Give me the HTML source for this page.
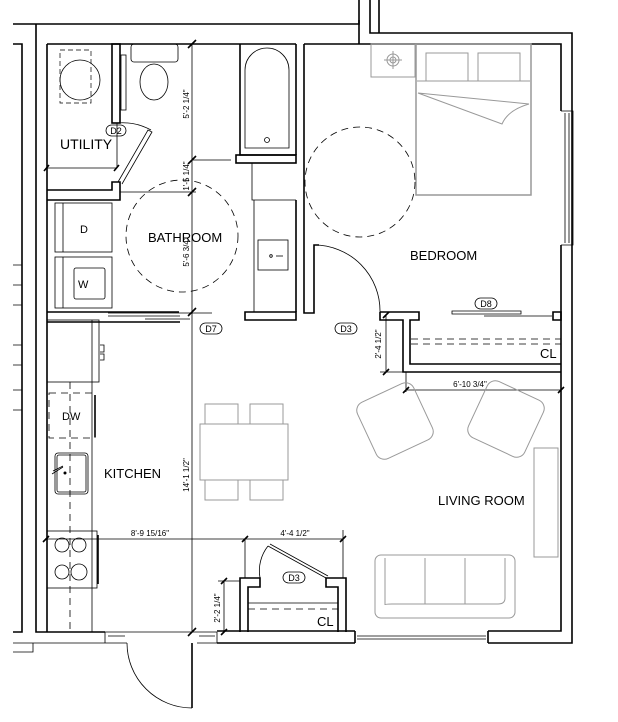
<!DOCTYPE html>
<html><head><meta charset="utf-8"><style>
html,body{margin:0;padding:0;background:#fff}
svg{display:block}
text{font-family:"Liberation Sans",sans-serif;fill:#000}
.w{fill:none;stroke:#000;stroke-width:1.6}
.t{fill:none;stroke:#000;stroke-width:0.8}
.g{fill:none;stroke:#999;stroke-width:1}
.d{fill:none;stroke:#000;stroke-width:0.9;stroke-dasharray:7 5}
.lab{font-size:13px}
.dim{font-size:8px}
</style></head><body>
<svg width="618" height="722" viewBox="0 0 618 722" xmlns="http://www.w3.org/2000/svg">
<!-- outer walls -->
<path class="w" d="M13 24 H359 V0 M370 0 V33 H572 V643 H488 M379 0 V33"/>
<path class="w" d="M13 44 H22 V632 H13 M36 24 V632 H105 M47 44 V632 M47 44 H296 M304 44 H359 M359 44 V20 M359 44 H561 V111 M561 245 V631 H488 M355 631 H217 M217 643 H355 M355 631 V643 M488 631 V643"/>
<path class="t" d="M13 643 H105 M13 652 H33 V643 M105 632 V643 M217 632 V643"/>
<!-- left ticks -->
<path class="t" d="M13 265 H22 M13 285 H22 M13 305 H22 M13 345 H22 M13 365 H22 M13 390 H22 M13 410 H22"/>
<!-- right window -->
<path class="t" d="M561 111 H573 V245 H561 M565 113 V243 M569 113 V243"/>
<!-- living window -->
<path class="t" d="M357 636 H486 M357 639 H486"/>
<!-- entry -->
<path class="t" d="M105 632 H217 M105 643 H127 M197 643 H217 M108 636 H125 M199 636 H215"/>
<path class="w" d="M192 643 V708"/>
<path class="t" d="M127 643 A65 65 0 0 0 192 708"/>
<!-- bath/bedroom wall -->
<path class="w" d="M296 44 V155 M304 44 V313 H314 V245 H319 M296 200 V312"/>
<path class="t" d="M314 245 A66 66 0 0 1 380 312"/>
<!-- tub -->
<path class="w" d="M240 44 V155 H296"/>
<rect x="236" y="155" width="60" height="8" class="w"/>
<path class="t" d="M245 148 V70 A22 22 0 0 1 289 70 V148 Z"/>
<circle cx="267" cy="140" r="2.5" class="t"/>
<!-- vanity -->
<path class="t" d="M252 163 V200 H296 M254 200 V312"/>
<rect x="258" y="240" width="30" height="30" class="t"/>
<circle cx="271" cy="256" r="1.3" class="t"/><path class="t" d="M276 256 H283"/>
<!-- bath bottom wall -->
<path class="w" d="M47 312 H179 M245 312 H296 V320 H245 Z M47 322 H180"/>
<path class="t" d="M108 313 H212 M108 316 H180 M145 319 H190"/>
<!-- toilet -->
<rect x="131" y="44" width="47" height="18" rx="3" class="t"/>
<ellipse cx="154" cy="82" rx="14" ry="18" class="t"/>
<!-- utility -->
<rect x="112" y="44" width="8" height="79" class="w"/>
<rect x="121" y="55" width="5" height="55" class="t"/>
<rect x="60" y="50" width="31" height="53" class="d" style="stroke-dasharray:5 3;stroke-width:0.7"/>
<circle cx="80" cy="80" r="20" class="t"/>
<path class="w" d="M47 190 H112 V182 H120 V200 H47"/>
<path class="t" d="M118 182 L148 130 L152 132 L122 184 M117 123 A60 60 0 0 1 151 130"/>
<path class="t" d="M46 168 H117 M117 123 V168 M120 192 H196"/>
<path class="w" d="M44 171 L49 165 M114 171 L119 165"/>
<rect x="55" y="203" width="57" height="49" class="t"/><path class="t" d="M63 203 V252"/>
<rect x="55" y="257" width="57" height="51" class="t"/><path class="t" d="M63 257 V308"/>
<rect x="74" y="268" width="31" height="31" rx="2" class="t"/>
<text x="80" y="233" class="lab" style="font-size:11px">D</text>
<text x="78" y="288" class="lab" style="font-size:11px">W</text>
<text x="60" y="149" class="lab" style="font-size:14px">UTILITY</text>
<!-- bath circle -->
<circle cx="182" cy="236" r="56" class="d" style="stroke-width:0.8"/>
<text x="148" y="242" class="lab" style="font-size:13px">BATHROOM</text>
<!-- central dim line -->
<path class="t" d="M192 44 V632 M192 160 H231"/>
<path class="w" d="M188 48 L196 40 M188 164 L196 156 M188 196 L196 188 M188 316 L196 308 M188 636 L196 628"/>
<text class="dim" transform="translate(189,104) rotate(-90)" text-anchor="middle">5'-2 1/4"</text>
<text class="dim" transform="translate(189,176) rotate(-90)" text-anchor="middle">1'-5 1/4"</text>
<text class="dim" transform="translate(189,252) rotate(-90)" text-anchor="middle">5'-6 3/4"</text>
<text class="dim" transform="translate(189,475) rotate(-90)" text-anchor="middle">14'-1 1/2"</text>
<!-- labels D -->
<rect x="106" y="125" width="20" height="11" rx="5.5" class="t"/><text x="116" y="134" class="dim" text-anchor="middle" style="font-size:9px">D2</text>
<rect x="200" y="323" width="22" height="11" rx="5.5" class="t"/><text x="211" y="332" class="dim" text-anchor="middle" style="font-size:9px">D7</text>
<rect x="335" y="323" width="22" height="11" rx="5.5" class="t"/><text x="346" y="332" class="dim" text-anchor="middle" style="font-size:9px">D3</text>
<rect x="475" y="298" width="22" height="11" rx="5.5" class="t"/><text x="486" y="307" class="dim" text-anchor="middle" style="font-size:9px">D8</text>
<rect x="283" y="572" width="22" height="11" rx="5.5" class="t"/><text x="294" y="581" class="dim" text-anchor="middle" style="font-size:9px">D3</text>
<!-- bedroom -->
<rect x="371" y="44" width="44" height="33" class="g"/>
<circle cx="393" cy="60" r="6" class="g"/><circle cx="393" cy="60" r="3" class="g"/><path class="g" d="M384 60 H402 M393 51 V69"/>
<rect x="416" y="44" width="115" height="151" class="g" style="stroke-width:1.5"/>
<rect x="426" y="53" width="42" height="28" class="g"/><rect x="478" y="53" width="42" height="28" class="g"/>
<path class="g" d="M417 81 H530 M418 93 L529 104 M418 93 L502 124 Q508 110 529 104"/>
<circle cx="360" cy="182" r="55" class="d" style="stroke-width:0.8"/>
<text x="410" y="260" class="lab">BEDROOM</text>
<!-- bedroom closet -->
<path class="w" d="M380 312 H419 V320 H410 V364 H561 M380 312 V320 H403 V372 H561 M553 312 H561 V320 H553 Z"/>
<path class="t" d="M452 311 H521 V314 H452 Z M484 316 H552"/>
<path class="d" d="M411 339 H561 M411 344 H561" style="stroke-width:0.8"/>
<text x="540" y="358" class="lab">CL</text>
<path class="t" d="M386 315 V372 M380 372 H410"/>
<path class="w" d="M383 318 L389 312 M383 375 L389 369"/>
<text class="dim" transform="translate(381,344) rotate(-90)" text-anchor="middle">2'-4 1/2"</text>
<!-- kitchen -->
<rect x="47" y="320" width="52" height="62" class="t"/><path class="t" d="M92 320 V382 M100 345 H104 V352 H100 M100 354 H104 V360 H100"/>
<path class="t" d="M92 382 V632"/>
<path class="d" d="M70 382 V632" style="stroke-width:0.8"/>
<rect x="49" y="393" width="46" height="45" class="d" style="stroke-width:0.8"/>
<path class="w" d="M95 395 V437"/>
<text x="62" y="420" class="lab" style="font-size:11px">DW</text>
<rect x="55" y="453" width="33" height="41" rx="3" class="t"/><rect x="57" y="455" width="29" height="37" rx="2" class="t"/>
<circle cx="65" cy="473" r="1.5" fill="#000"/><path class="t" d="M52 474 L63 467 M53 471 L63 466"/>
<rect x="47" y="531" width="50" height="57" class="t"/><path class="w" d="M98 535 V584"/>
<circle cx="62" cy="545" r="7" class="t"/><circle cx="79" cy="545" r="7" class="t"/>
<circle cx="62" cy="572" r="7" class="t"/><circle cx="79" cy="572" r="8" class="t"/>
<text x="104" y="478" class="lab">KITCHEN</text>
<!-- dining -->
<rect x="200" y="424" width="88" height="56" class="g"/>
<rect x="205" y="404" width="33" height="20" class="g"/><rect x="250" y="404" width="33" height="20" class="g"/>
<rect x="205" y="480" width="33" height="20" class="g"/><rect x="250" y="480" width="33" height="20" class="g"/>
<!-- dims bottom -->
<path class="t" d="M45 539 H343 M245 539 V578 M343 530 V578"/>
<path class="w" d="M43 542 L49 536 M242 542 L248 536 M340 542 L346 536"/>
<text x="150" y="536" class="dim" text-anchor="middle" style="fill:#000;paint-order:stroke;stroke:#fff;stroke-width:3">8'-9 15/16"</text>
<text x="295" y="536" class="dim" text-anchor="middle">4'-4 1/2"</text>
<!-- lower closet -->
<path class="w" d="M240 632 V578 H260 V587 H248 V632 M346 632 V578 H326 V587 H338 V632"/>
<path class="t" d="M268 546 L326 578 M270 544 L328 576 M268 546 A40 40 0 0 0 260 578"/>
<path class="t" d="M248 603 H338"/>
<path class="d" d="M248 609 H338" style="stroke-width:0.8"/>
<text x="317" y="626" class="lab">CL</text>
<path class="t" d="M224 580 V632 M218 581 H240"/>
<path class="w" d="M221 584 L227 578 M221 635 L227 629"/>
<text class="dim" transform="translate(220,608) rotate(-90)" text-anchor="middle">2'-2 1/4"</text>
<!-- living -->
<path class="t" d="M406 390 H561 M406 372 V392"/>
<path class="w" d="M403 393 L409 387 M558 393 L564 387"/>
<text x="470" y="387" class="dim" text-anchor="middle">6'-10 3/4"</text>
<g transform="translate(395,421) rotate(-25)"><rect x="-31" y="-31" width="62" height="62" rx="9" class="g"/></g>
<g transform="translate(506,419) rotate(25)"><rect x="-31" y="-31" width="62" height="62" rx="9" class="g"/></g>
<rect x="534" y="448" width="24" height="109" class="g"/>
<rect x="375" y="555" width="140" height="63" rx="6" class="g"/>
<path class="g" d="M385 558 V605 Q385 604 392 604 H498 Q505 604 505 598 V558 M425 558 V604 M465 558 V604"/>
<text x="438" y="505" class="lab">LIVING ROOM</text>
</svg>
</body></html>
